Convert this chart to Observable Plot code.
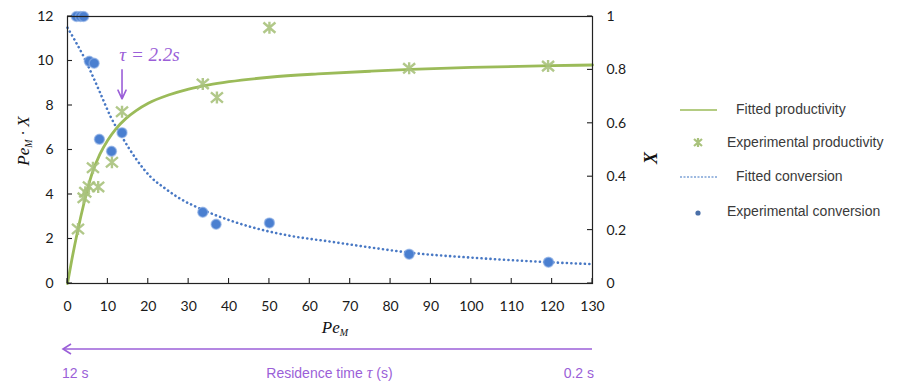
<!DOCTYPE html>
<html><head><meta charset="utf-8">
<script src="https://cdn.jsdelivr.net/npm/d3@7"></script>
<script src="https://cdn.jsdelivr.net/npm/@observablehq/plot@0.6"></script>
<style>
body{margin:0;background:#fff;}
#wrap{position:relative;width:911px;height:382px;overflow:hidden;background:#fff;}
#legend{position:absolute;left:676px;top:96px;font-family:"Liberation Sans",Arial,sans-serif;font-size:14px;color:#3a3a3a;}
#legend .row{position:absolute;left:0;height:20px;width:240px;}
#legend svg{position:absolute;left:0;top:0;}
#legend span{position:absolute;top:1px;white-space:nowrap;}
</style></head><body><div id="wrap"></div>
<script>
// ---- data ----
const xTicks = [0,10,20,30,40,50,60,70,80,90,100,110,120,130];
const leftTicks = [0,2,4,6,8,10,12];
const rightTicks = [0,0.2,0.4,0.6,0.8,1];

// Experimental productivity (Pe_M · X, left axis)
const expProdPe = [2.6,4.0,4.4,5.3,6.3,7.6,11.0,13.5,33.5,37.0,50.0,84.6,119.0];
const expProd   = [2.45,3.85,4.1,4.35,5.2,4.34,5.45,7.72,8.97,8.36,11.5,9.67,9.77];

// Experimental conversion (X, right axis)
const expConvPe = [2.2,3.2,4.0,5.4,6.6,7.9,10.9,13.5,33.5,36.8,50.0,84.6,119.1];
const expConv   = [1.0,1.0,1.0,0.832,0.825,0.54,0.495,0.565,0.267,0.222,0.227,0.11,0.08];

// Fitted productivity (left axis)
const fitProdPe = [0,1,2.5,4,6,8,10,12,14.5,17,20,25,30,35,40,50,62,75,85,100,120,130];
const fitProd   = [0,1.0,2.35,3.55,4.9,5.8,6.45,6.95,7.42,7.77,8.1,8.47,8.74,8.93,9.07,9.27,9.42,9.54,9.62,9.71,9.79,9.82];

// Fitted conversion (right axis)
const fitConvPe = [0,2,4,6,8,10.7,13.5,17.2,20.6,24,27.2,33.8,40,45.4,55,65,75,85,100,115,130];
const fitConv   = [0.958,0.906,0.85,0.785,0.717,0.624,0.549,0.462,0.399,0.358,0.324,0.274,0.2375,0.212,0.179,0.157,0.135,0.115,0.097,0.083,0.0725];

// Annotation
const annotText = "τ = 2.2s";
const annotPe = 13.5;
const legendLabels = ["Fitted productivity","Experimental productivity","Fitted conversion","Experimental conversion"];
const captionLeft = "12 s", captionRight = "0.2 s", captionMid = "Residence time ";

// ---- styling ----
const GREEN = "#9bbb59", GREEN_PT = "#a9c27c", BLUE = "#4878c4", BLUE_PT = "#4a7fd0", PURPLE = "#9b5fd8";
const X_MAX = 12; // X = 1 on the right axis sits at 12 on the left axis
const toLeft = v => v * X_MAX;
const fmt = d3.format("~g");

const starSymbol = {
  draw(ctx, size) {
    const r = Math.sqrt(size / Math.PI);
    ctx.moveTo(-r, -r*0.85); ctx.lineTo(r, r*0.85);
    ctx.moveTo(-r, r*0.85); ctx.lineTo(r, -r*0.85);
    ctx.moveTo(0, -r); ctx.lineTo(0, r);
  }
};

const prodFit = fitProdPe.map((x,i)=>({x, y: fitProd[i]}));
const convFit = fitConvPe.map((x,i)=>({x, y: toLeft(fitConv[i])}));
const prodExp = expProdPe.map((x,i)=>({x, y: expProd[i]}));
const convExp = expConvPe.map((x,i)=>({x, y: toLeft(expConv[i])}));

const tickFont = "Lato, 'Liberation Sans', sans-serif";

const plot = Plot.plot({
  width: 911, height: 335,
  marginLeft: 67, marginRight: 319, marginTop: 16, marginBottom: 52,
  x: {domain: [0,130]},
  y: {domain: [0,12]},
  style: {fontFamily: tickFont, fontSize: "14px", color: "#1a1a1a", background: "transparent", overflow: "visible"},
  marks: [
    Plot.line(convFit, {x:"x", y:"y", curve:"monotone-x", stroke: BLUE, strokeWidth: 2.6, strokeDasharray: "0.1 4.4", strokeLinecap: "round"}),
    Plot.line(prodFit, {x:"x", y:"y", curve:"monotone-x", stroke: GREEN, strokeWidth: 2.8}),
    Plot.dot(prodExp, {x:"x", y:"y", symbol: starSymbol, r: 6, stroke: GREEN_PT, strokeWidth: 2.4, strokeOpacity: 0.9}),
    Plot.dot(convExp, {x:"x", y:"y", r: 5, fill: BLUE_PT, stroke: "#8fb0e6", strokeWidth: 1.5, strokeOpacity: 0.6}),
    Plot.frame({stroke: "#222", strokeWidth: 1.2}),
    Plot.axisX({ticks: xTicks, tickSize: 0, tickPadding: 18, label: null, fontSize: 14}),
    Plot.axisY({anchor: "left", ticks: leftTicks, tickSize: 0, tickPadding: 14, label: null, fontSize: 14}),
    Plot.axisY({anchor: "right", ticks: rightTicks.map(toLeft), tickFormat: d => fmt(+(d / X_MAX).toFixed(3)), tickSize: 0, tickPadding: 14, label: null, fontSize: 14}),
    Plot.arrow([annotPe], {x1: d=>d, x2: d=>d, y1: 9.6, y2: 8.3, stroke: PURPLE, strokeWidth: 1.6, headLength: 9, headAngle: 50}),
    Plot.text([annotText], {x: 20.3, y: 10.27, text: d=>d, fill: PURPLE, fontSize: 19, fontStyle: "italic", fontFamily: "'Liberation Serif', 'DejaVu Serif', serif"})
  ]
});

const wrap = document.getElementById("wrap");
plot.style.position = "absolute"; plot.style.left = "0"; plot.style.top = "0";
wrap.appendChild(plot);

const svg = d3.select(plot);
const xs = plot.scale("x"), ys = plot.scale("y");
const x0 = xs.apply(0), x1 = xs.apply(130), yb = ys.apply(0);

// inward tick marks placed with the chart's scales
const tg = svg.append("g").attr("stroke","#222").attr("stroke-width",1.1);
xTicks.forEach(t => tg.append("line").attr("x1",xs.apply(t)).attr("x2",xs.apply(t)).attr("y1",yb).attr("y2",yb-5));
leftTicks.forEach(t => tg.append("line").attr("x1",x0).attr("x2",x0+5).attr("y1",ys.apply(t)).attr("y2",ys.apply(t)));
rightTicks.forEach(t => tg.append("line").attr("x1",x1).attr("x2",x1-5).attr("y1",ys.apply(toLeft(t))).attr("y2",ys.apply(toLeft(t))));

// axis titles with subscripts
const serif = "'Liberation Serif', 'DejaVu Serif', serif";
const lt = svg.append("text").attr("transform","translate(29,141) rotate(-90)").attr("text-anchor","middle")
  .attr("font-family", serif).attr("font-style","italic").attr("font-size",17).attr("fill","#111");
lt.append("tspan").text("Pe");
lt.append("tspan").attr("font-size",10).attr("dy",3).text("M");
lt.append("tspan").attr("dy",-3).text(" · X");
svg.append("text").attr("transform","translate(657,158) rotate(-90)").attr("text-anchor","middle")
  .attr("font-family", serif).attr("font-style","italic").attr("font-weight","bold").attr("font-size",18).attr("fill","#111").text("X");
const bt = svg.append("text").attr("x",335).attr("y",333).attr("text-anchor","middle")
  .attr("font-family", serif).attr("font-style","italic").attr("font-size",17).attr("fill","#111");
bt.append("tspan").text("Pe");
bt.append("tspan").attr("font-size",10).attr("dy",3).text("M");

// residence-time caption, aligned on the x scale
const cap = d3.select(wrap).append("svg").attr("width",911).attr("height",47)
  .style("position","absolute").style("left","0").style("top","335px");
const capFont = "'Liberation Sans Narrow', 'Liberation Sans', Arial, sans-serif";
cap.append("line").attr("x1",x1).attr("x2",x0-3).attr("y1",14).attr("y2",14).attr("stroke",PURPLE).attr("stroke-width",1.6);
cap.append("path").attr("d",`M${x0+4},9 L${x0-4},14 L${x0+4},19`).attr("fill","none").attr("stroke",PURPLE).attr("stroke-width",1.6);
cap.append("text").attr("x",x0-5).attr("y",43).attr("fill",PURPLE).attr("font-family",capFont).attr("font-size",14).text(captionLeft);
cap.append("text").attr("x",x1+2).attr("y",43).attr("text-anchor","end").attr("fill",PURPLE).attr("font-family",capFont).attr("font-size",14).text(captionRight);
const mt = cap.append("text").attr("x",xs.apply(65)).attr("y",43).attr("text-anchor","middle").attr("fill",PURPLE).attr("font-family",capFont).attr("font-size",14);
mt.append("tspan").text(captionMid);
mt.append("tspan").attr("font-family",serif).attr("font-style","italic").attr("font-size",16).text("τ");
mt.append("tspan").text(" (s)");

// legend
const leg = document.createElement("div"); leg.id = "legend"; wrap.appendChild(leg);
const rowsY = [4, 37, 71, 106];
const textX = [60, 51, 60, 51];
legendLabels.forEach((lab,i)=>{
  const row = document.createElement("div"); row.className = "row"; row.style.top = rowsY[i] + "px";
  const s = d3.create("svg").attr("width",50).attr("height",20);
  if (i === 0) s.append("line").attr("x1",4).attr("x2",41).attr("y1",10).attr("y2",10).attr("stroke",GREEN).attr("stroke-width",1.6);
  if (i === 1) s.append("path").attr("d","M18,6L26,13M18,13L26,6M22,5L22,14").attr("stroke",GREEN_PT).attr("stroke-width",2.2).attr("fill","none");
  if (i === 2) s.append("line").attr("x1",4).attr("x2",41).attr("y1",10).attr("y2",10).attr("stroke","#7ea2d6").attr("stroke-width",1.4).attr("stroke-dasharray","2 1.5");
  if (i === 3) s.append("circle").attr("cx",22).attr("cy",11).attr("r",2.6).attr("fill","#4a6fa8");
  row.appendChild(s.node());
  const sp = document.createElement("span"); sp.style.left = textX[i] + "px"; sp.textContent = lab;
  row.appendChild(sp);
  leg.appendChild(row);
});
</script></body></html>
